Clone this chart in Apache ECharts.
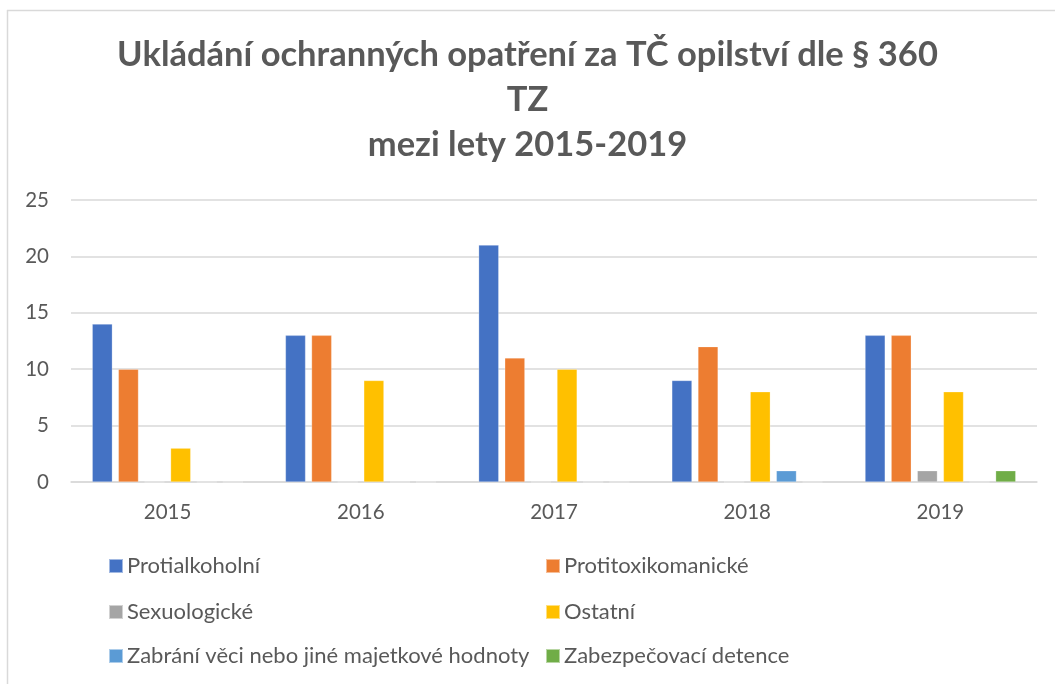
<!DOCTYPE html>
<html>
<head>
<meta charset="utf-8">
<script src="https://cdn.jsdelivr.net/npm/echarts@6/dist/echarts.min.js"></script>
<style>
html,body{margin:0;padding:0;background:#fff;}
#main{width:1055px;height:684px;}
</style>
</head>
<body>
<div id="main"></div>
<script>
const titleText = 'Ukládání ochranných opatření za TČ opilství dle § 360\nTZ\nmezi lety 2015-2019';
const categories = ['2015', '2016', '2017', '2018', '2019'];
const seriesNames = ['Protialkoholní', 'Protitoxikomanické', 'Sexuologické', 'Ostatní', 'Zabrání věci nebo jiné majetkové hodnoty', 'Zabezpečovací detence'];
const protialkoholni = [14, 13, 21, 9, 13];
const protitoxikomanicke = [10, 13, 11, 12, 13];
const sexuologicke = [0, 0, 0, 0, 1];
const ostatni = [3, 9, 10, 8, 8];
const zabraniVeci = [0, 0, 0, 1, 0];
const zabezpecovaciDetence = [0, 0, 0, 0, 1];
const yTicks = [0, 5, 10, 15, 20, 25];

const seriesData = [protialkoholni, protitoxikomanicke, sexuologicke, ostatni, zabraniVeci, zabezpecovaciDetence];
const colors = ['#4472C4', '#ED7D31', '#A5A5A5', '#FFC000', '#5B9BD5', '#70AD47'];
const font = 'Lato, "Open Sans", sans-serif';
const textColor = '#595959';

const legendPos = [
  {left: 108, top: 555}, {left: 545, top: 555},
  {left: 108, top: 601}, {left: 545, top: 601},
  {left: 108, top: 645}, {left: 545, top: 645}
];

const chart = echarts.init(document.getElementById('main'), null, {renderer: 'canvas'});
chart.setOption({
  animation: false,
  color: colors,
  title: {
    text: titleText,
    left: 'center',
    top: 27,
    textStyle: {fontFamily: font, fontWeight: 'bold', fontSize: 34.5, color: textColor, lineHeight: 45}
  },
  legend: seriesNames.map((n, i) => ({
    data: [n],
    left: legendPos[i].left,
    top: legendPos[i].top,
    itemWidth: 14,
    itemHeight: 14,
    itemGap: 5,
    icon: 'rect',
    selectedMode: false,
    textStyle: {fontFamily: font, fontSize: 22, color: textColor, padding: [0, 0, 0, -1]},
    padding: 0
  })),
  grid: {left: 71, right: 18, top: 200, bottom: 202, containLabel: false},
  xAxis: {
    type: 'category',
    data: categories,
    axisLine: {lineStyle: {color: '#d9d9d9', width: 1.5}},
    axisTick: {show: false},
    axisLabel: {fontFamily: font, fontSize: 20.5, color: textColor, margin: 20}
  },
  yAxis: {
    type: 'value',
    min: yTicks[0],
    max: yTicks[yTicks.length - 1],
    interval: 5,
    axisLine: {show: false},
    axisTick: {show: false},
    splitLine: {lineStyle: {color: '#d9d9d9', width: 1.5}},
    axisLabel: {fontFamily: font, fontSize: 20.5, color: textColor, margin: 22}
  },
  series: seriesNames.map((n, i) => ({
    name: n,
    type: 'bar',
    data: seriesData[i],
    barGap: '30%',
    barCategoryGap: '22%',
    itemStyle: {color: colors[i], borderColor: 'rgba(255,255,255,0.5)', borderWidth: 0.5}
  })),
  graphic: [
    {type: 'line', shape: {x1: 7, y1: 10.5, x2: 1055, y2: 10.5}, style: {stroke: '#d9d9d9', lineWidth: 1.5}},
    {type: 'line', shape: {x1: 7.5, y1: 10, x2: 7.5, y2: 684}, style: {stroke: '#d9d9d9', lineWidth: 1.5}}
  ]
});
</script>
</body>
</html>
